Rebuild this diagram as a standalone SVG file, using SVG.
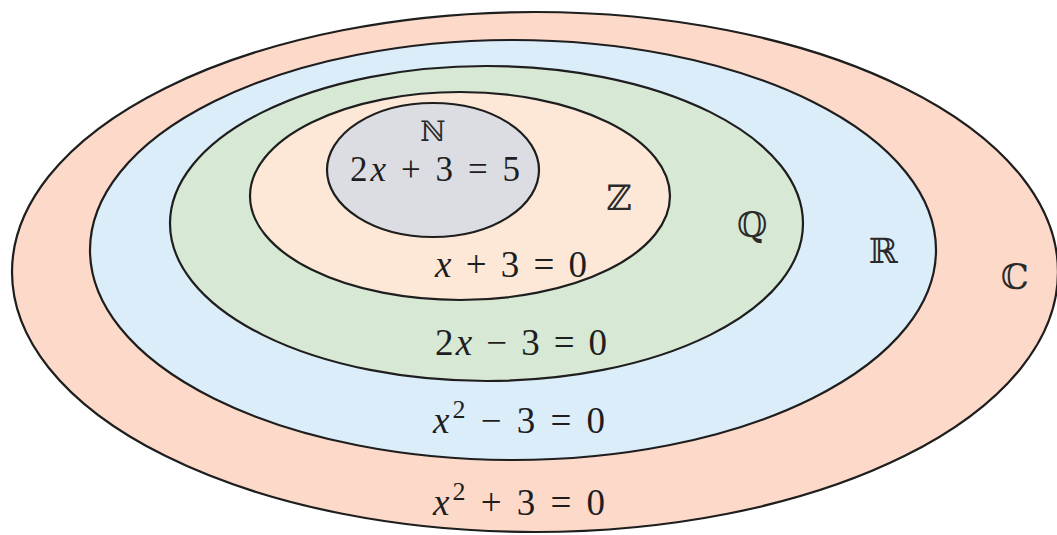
<svg xmlns="http://www.w3.org/2000/svg" width="1057" height="535" viewBox="0 0 1057 535">
<style>
.set{stroke:#1e1e1e;stroke-width:2.2}
.lbl{font-family:"DejaVu Serif","Liberation Serif",serif;font-size:35px;fill:#2a2a2a;text-anchor:middle}
.eq{font-family:"Liberation Serif","Times New Roman",serif;font-size:37px;fill:#1e1e1e}
.it{font-style:italic}
</style>
<rect width="1057" height="535" fill="#ffffff"/>
<g id="C">
<ellipse class="set" cx="535" cy="272" rx="523" ry="260" fill="#fcd9c9"/>
<text class="lbl" x="1015" y="289">ℂ</text>
<text class="eq" x="433" y="515" textLength="172" lengthAdjust="spacing"><tspan class="it">x</tspan><tspan dy="-15" font-size="26">2</tspan><tspan dy="15"> + 3 = 0</tspan></text>
</g>
<g id="R">
<ellipse class="set" cx="513" cy="250" rx="423" ry="210" fill="#dcedfa"/>
<text class="lbl" x="883" y="263">ℝ</text>
<text class="eq" x="433" y="433" textLength="172" lengthAdjust="spacing"><tspan class="it">x</tspan><tspan dy="-15" font-size="26">2</tspan><tspan dy="15"> − 3 = 0</tspan></text>
</g>
<g id="Q">
<ellipse class="set" cx="486.500" cy="223.500" rx="316.500" ry="157.500" fill="#d7e8d4"/>
<text class="lbl" x="752" y="237">ℚ</text>
<text class="eq" x="435" y="355" textLength="172" lengthAdjust="spacing">2<tspan class="it">x</tspan> − 3 = 0</text>
</g>
<g id="Z">
<ellipse class="set" cx="460" cy="196" rx="210" ry="104" fill="#fde8d8"/>
<text class="lbl" x="619" y="210">ℤ</text>
<text class="eq" x="435" y="277" textLength="152" lengthAdjust="spacing"><tspan class="it">x</tspan> + 3 = 0</text>
</g>
<g id="N">
<ellipse class="set" cx="433" cy="170" rx="106" ry="67" fill="#dcdde2"/>
<text class="lbl" x="433" y="141" style="font-size:28px">ℕ</text>
<text class="eq" x="350" y="181" textLength="170" lengthAdjust="spacing" style="font-size:35px">2<tspan class="it">x</tspan> + 3 = 5</text>
</g>
<g id="connectors"/>
</svg>
